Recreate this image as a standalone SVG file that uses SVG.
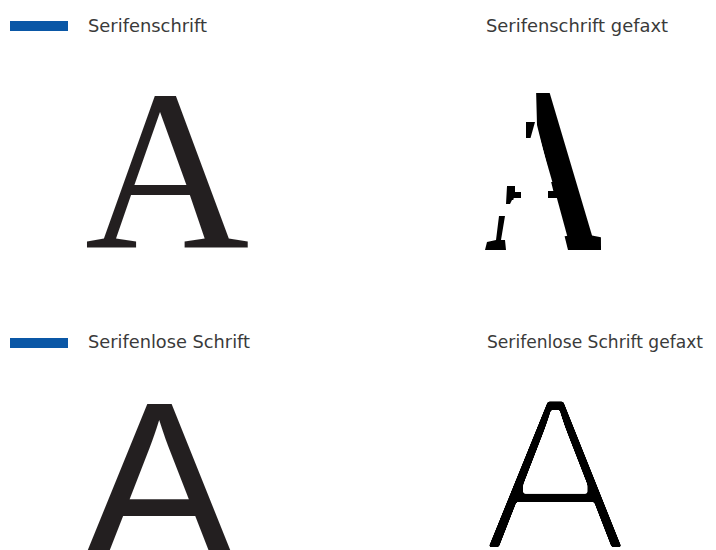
<svg xmlns="http://www.w3.org/2000/svg" width="716" height="550" viewBox="0 0 716 550">
<style>
.lbl{font-family:"DejaVu Sans",Verdana,sans-serif;font-size:17.6px;fill:#3a3a3a}
.bar{fill:#0a57a6}
.serif{font-family:"Liberation Serif","Times New Roman",serif;font-size:228px;fill:#231f20}
.sans{font-family:"Liberation Sans",Arial,sans-serif;fill:#231f20}
</style>
<defs>
<filter id="fax" x="-20%" y="-20%" width="140%" height="140%">
<feMorphology operator="erode" radius="3.6"/>
<feGaussianBlur stdDeviation="1.3"/>
<feComponentTransfer>
<feFuncA type="linear" slope="6" intercept="-2.4"/>
</feComponentTransfer>
</filter>
<filter id="bold" x="-20%" y="-20%" width="140%" height="140%">
<feMorphology operator="dilate" radius="2.5"/>
</filter>
<clipPath id="faxclip" clipPathUnits="userSpaceOnUse">
<polygon points="536,88 600,88 601,250 568,250 537,125"/>
<polygon points="526,122 535,122 535,138 526,138"/>
<polygon points="507,186 515,186 515,192 521,192 521,200 512,200 510,204 506,204"/>
<rect x="548" y="191" width="12" height="10"/>
<polygon points="499,216 505,216 501,240 505,240 506,250 485,250 487,242 496,240"/>
</clipPath>
</defs>
<g id="serif">
<rect class="bar" x="10" y="21" width="58" height="10"/>
<text class="lbl" x="88" y="32" textLength="119" lengthAdjust="spacingAndGlyphs">Serifenschrift</text>
<text class="serif" x="167" y="247" text-anchor="middle">A</text>
</g>
<g id="serif-fax">
<text class="lbl" x="486" y="32" textLength="182" lengthAdjust="spacingAndGlyphs">Serifenschrift gefaxt</text>
<g clip-path="url(#faxclip)">
<text class="serif" x="167" y="247" text-anchor="middle" style="fill:#000" filter="url(#bold)" transform="translate(543,0) scale(0.8,1) translate(-170,0)">A</text>
</g>
</g>
<g id="sans">
<rect class="bar" x="10" y="338" width="58" height="10"/>
<text class="lbl" x="88" y="348" textLength="162" lengthAdjust="spacingAndGlyphs">Serifenlose Schrift</text>
<text class="sans" x="159" y="562" font-size="230" text-anchor="middle">A</text>
</g>
<g id="sans-fax">
<text class="lbl" x="487" y="348" textLength="216" lengthAdjust="spacingAndGlyphs">Serifenlose Schrift gefaxt</text>
<text class="sans" x="555" y="551" font-size="222" text-anchor="middle" style="fill:#000" filter="url(#fax)">A</text>
</g>
</svg>
